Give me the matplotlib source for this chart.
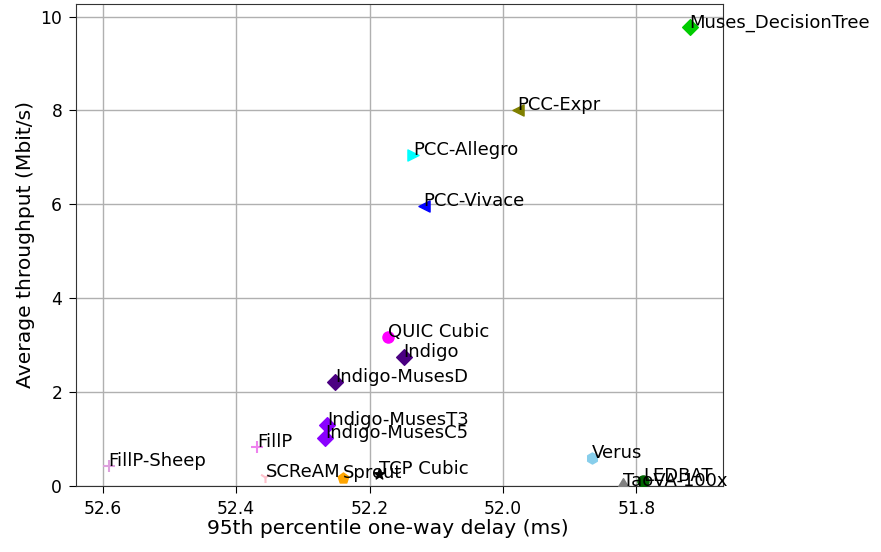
import matplotlib
matplotlib.use("Agg")
import matplotlib.pyplot as plt

# Schemes: name, 95th pct delay (ms), throughput (Mbit/s)
names = ["Muses_DecisionTree", "PCC-Expr", "PCC-Allegro", "PCC-Vivace",
         "QUIC Cubic", "Indigo", "Indigo-MusesD", "Indigo-MusesT3",
         "Indigo-MusesC5", "FillP", "FillP-Sheep", "SCReAM", "Sprout",
         "TCP Cubic", "Verus", "TaoVA-100x", "LEDBAT"]
delay = [51.72, 51.978, 52.135, 52.119, 52.173, 52.149, 52.251, 52.264,
         52.266, 52.369, 52.591, 52.356, 52.24, 52.186, 51.867, 51.82, 51.79]
tput = [9.77, 8.0, 7.04, 5.97, 3.18, 2.75, 2.22, 1.30, 1.02, 0.83, 0.43,
        0.19, 0.17, 0.26, 0.60, 0.0, 0.10]
colors = ["#00cc00", "olive", "cyan", "blue", "magenta", "indigo", "indigo",
          "#8a00ff", "#8a00ff", "violet", "plum", "pink", "orange", "black",
          "skyblue", "grey", "darkgreen"]
markers = ["D", "<", ">", "<", "o", "D", "D", "D", "D", "+", "+", "1", "p",
           "*", "h", "d", "o"]

fig, ax = plt.subplots(figsize=(8.81, 5.52), dpi=100)
fig.subplots_adjust(left=0.0863, right=0.8207, top=0.993, bottom=0.12)

for n, x, y, c, m in zip(names, delay, tput, colors, markers):
    ax.scatter(x, y, color=c, marker=m, s=64, zorder=3)
    ax.annotate(n, (x, y), fontsize=13, zorder=4)

ax.set_xlim(52.64, 51.67)
ax.set_ylim(0, 10.27)
ax.grid(True, color="#b0b0b0", linewidth=1)
ax.set_axisbelow(True)
ax.tick_params(labelsize=12.3, length=5, pad=5)
for s in ax.spines.values():
    s.set_color("#333333")
ax.set_xlabel("95th percentile one-way delay (ms)", fontsize=14.6)
ax.set_ylabel("Average throughput (Mbit/s)", fontsize=14.6)
ax.xaxis.set_label_coords(0.482, -0.07)

fig.savefig("out.png", dpi=100)
